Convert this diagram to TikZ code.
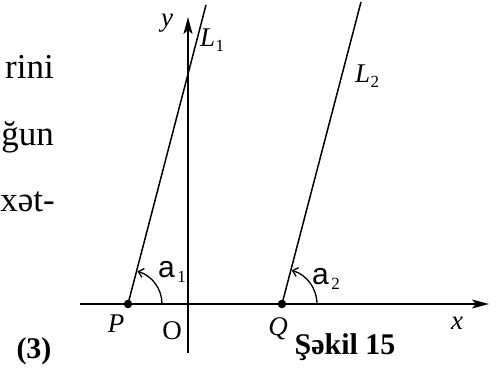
\documentclass[tikz,border=0pt]{standalone}
\usepackage{fontspec}
\setmainfont{Liberation Serif}
\newfontfamily\arialfont{Liberation Sans}
\usetikzlibrary{arrows.meta}
\begin{document}
\begin{tikzpicture}[x=1pt,y=-1pt,
  axisline/.style={line width=1.8pt,-{Stealth[length=17pt,width=9pt,inset=4pt]}},
  lineL/.style={line width=1.5pt},
  anglearc/.style={line width=1.3pt,-{Straight Barb[length=5pt,width=9pt]}},
  dotnode/.style={circle,fill,inner sep=0pt,minimum size=8.5pt},
  lbl/.style={inner sep=0pt,font=\fontsize{27}{27}\selectfont},
  albl/.style={inner sep=0pt,font=\fontsize{30}{30}\selectfont\arialfont},
  subl/.style={inner sep=0pt,font=\fontsize{17}{17}\selectfont},
  body/.style={inner sep=0pt,font=\fontsize{35}{35}\selectfont}]
\useasboundingbox (0,0) rectangle (498,371);
% paragraph fragments
\node[body,anchor=base east] (t1) at (54,79) {rini};
\node[body,anchor=base east] (t2) at (54,146) {ğun};
\node[body,anchor=base east] (t3) at (55,212) {xət-};
\node[inner sep=0pt,font=\fontsize{30}{30}\selectfont\bfseries,anchor=base] (eq) at (34,358) {(3)};
% axes
\coordinate (xstart) at (80,304);
\coordinate (xend) at (489,304);
\coordinate (ystart) at (188,353);
\coordinate (yend) at (188,17);
\draw[axisline] (xstart) -- (xend);
\draw[axisline] (ystart) -- (yend);
% points
\node[dotnode] (P) at (128,304) {};
\node[dotnode] (Q) at (282,304) {};
\coordinate (L1end) at (206,5);
\coordinate (L2end) at (361,2);
\draw[lineL] (P.center) -- (L1end);
\draw[lineL] (Q.center) -- (L2end);
% angle arcs
\draw[anglearc] ([xshift=34pt]P.center) arc[start angle=0,end angle=-74,radius=34];
\draw[anglearc] ([xshift=35pt]Q.center) arc[start angle=0,end angle=-74,radius=35];
% labels
\node[lbl,anchor=base] (ylab) at (167,27) {\itshape y};
\node[lbl,anchor=base] (xlab) at (457,330) {\itshape x};
\node[lbl,anchor=base] (Plab) at (116,333) {\itshape P};
\node[lbl,anchor=base] (Olab) at (172,340) {O};
\node[lbl,anchor=base] (Qlab) at (278,336) {\itshape Q};
\node[lbl,anchor=base west] (L1lab) at (200,47) {\itshape L};
\node[subl,anchor=base west] (L1sub) at ([yshift=-5pt]L1lab.base east) {1};
\node[lbl,anchor=base west] (L2lab) at (355,83) {\itshape L};
\node[subl,anchor=base west] (L2sub) at ([yshift=-5pt]L2lab.base east) {2};
\node[albl,anchor=base west] (a1lab) at (158,278) {a};
\node[subl,anchor=base west] (a1sub) at ([xshift=2pt,yshift=-5pt]a1lab.base east) {1};
\node[albl,anchor=base west] (a2lab) at (312,285) {a};
\node[subl,anchor=base west] (a2sub) at ([xshift=2pt,yshift=-5pt]a2lab.base east) {2};
\node[inner sep=0pt,font=\fontsize{30}{30}\selectfont\bfseries,anchor=base] (cap) at (345,355) {Şəkil 15};
\end{tikzpicture}
\end{document}
